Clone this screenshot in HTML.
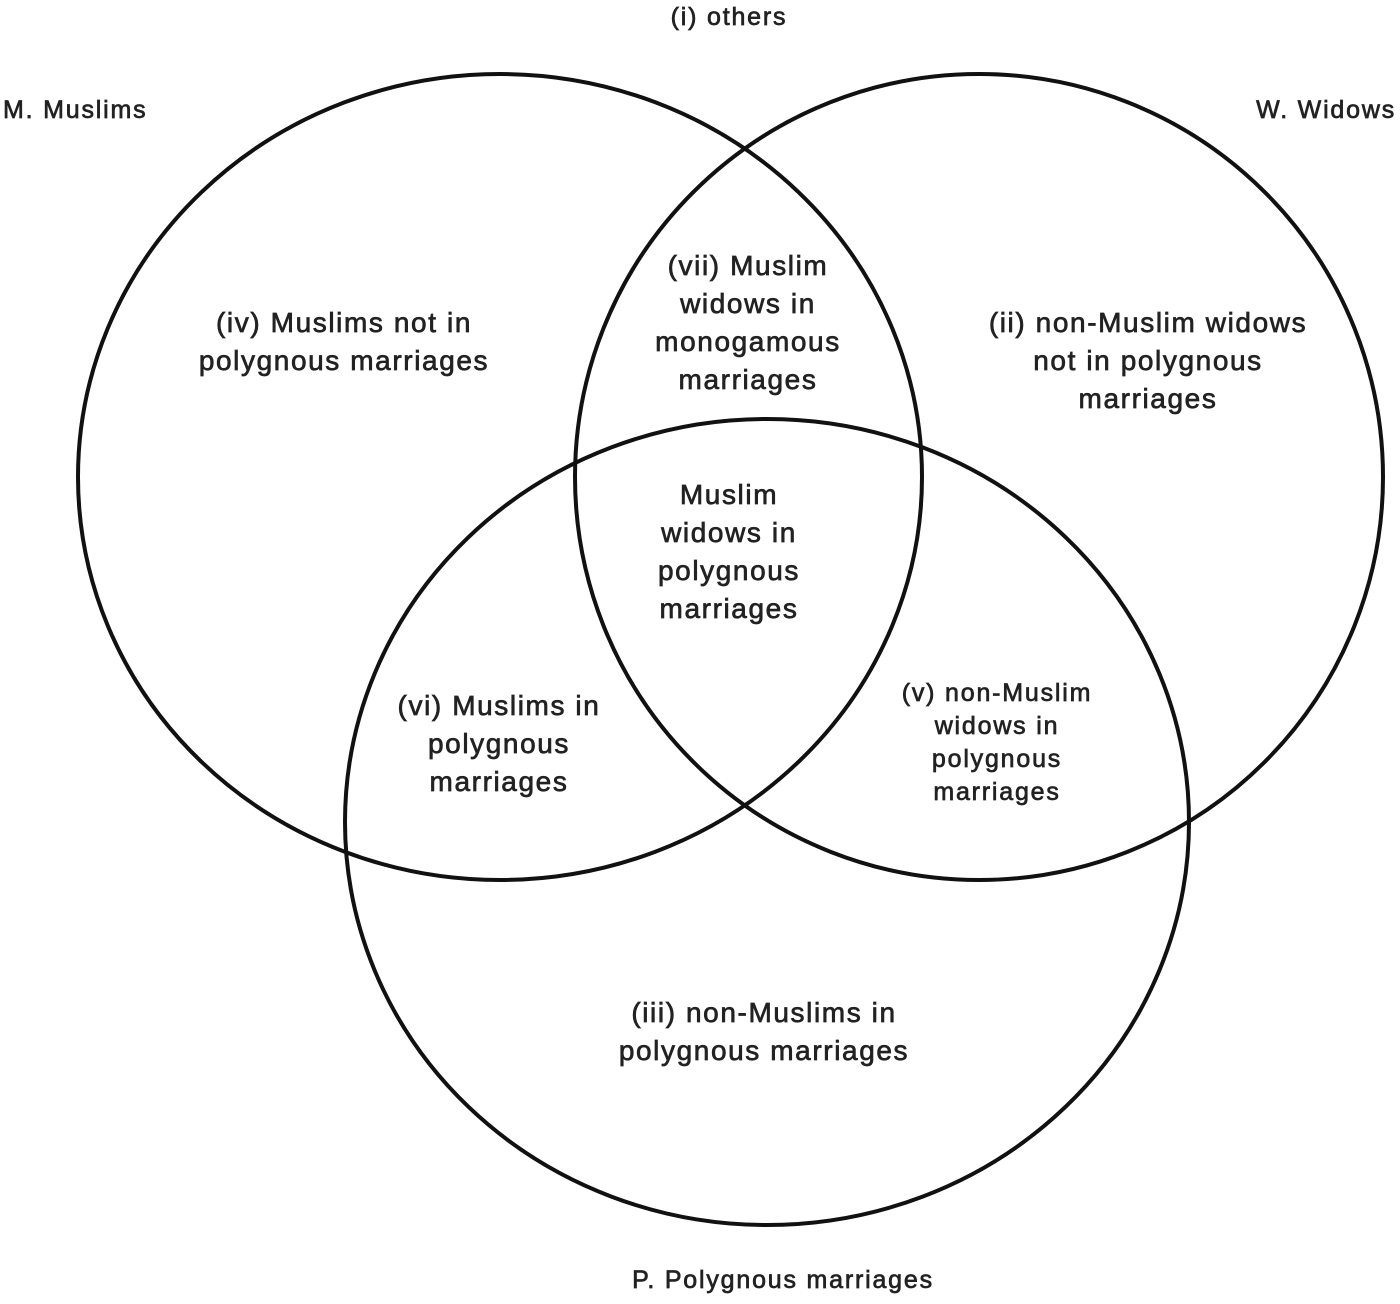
<!DOCTYPE html>
<html><head><style>
body{margin:0;background:#fff;}
svg text{font-family:"Liberation Sans",sans-serif;fill:#222;stroke:#222;stroke-width:0.7px;font-size:28px;text-anchor:middle;letter-spacing:1.6px;}
svg text.s{font-size:25px;letter-spacing:1.8px;}
</style></head><body>
<svg width="1400" height="1299" viewBox="0 0 1400 1299" xmlns="http://www.w3.org/2000/svg">
<g fill="none" stroke="#111" stroke-width="4">
<ellipse cx="500" cy="477" rx="422" ry="403"/>
<ellipse cx="979" cy="477" rx="404" ry="403"/>
<ellipse cx="767" cy="822" rx="422" ry="403"/>
</g>
<text class="s" x="729" y="25">(i) others</text>
<text class="s" x="3" y="118" style="text-anchor:start">M. Muslims</text>
<text class="s" x="1396" y="118" style="text-anchor:end">W. Widows</text>
<text class="s" x="783" y="1288">P. Polygnous marriages</text>
<text x="344" y="332">(iv) Muslims not in</text>
<text x="344" y="370">polygnous marriages</text>
<text x="748" y="275">(vii) Muslim</text>
<text x="748" y="313">widows in</text>
<text x="748" y="351">monogamous</text>
<text x="748" y="389">marriages</text>
<text x="1148" y="332">(ii) non-Muslim widows</text>
<text x="1148" y="370">not in polygnous</text>
<text x="1148" y="408">marriages</text>
<text x="729" y="504">Muslim</text>
<text x="729" y="542">widows in</text>
<text x="729" y="580">polygnous</text>
<text x="729" y="618">marriages</text>
<text x="499" y="715">(vi) Muslims in</text>
<text x="499" y="753">polygnous</text>
<text x="499" y="791">marriages</text>
<text class="s" x="997" y="701">(v) non-Muslim</text>
<text class="s" x="997" y="734">widows in</text>
<text class="s" x="997" y="767">polygnous</text>
<text class="s" x="997" y="800">marriages</text>
<text x="764" y="1022">(iii) non-Muslims in</text>
<text x="764" y="1060">polygnous marriages</text>
</svg>
</body></html>
